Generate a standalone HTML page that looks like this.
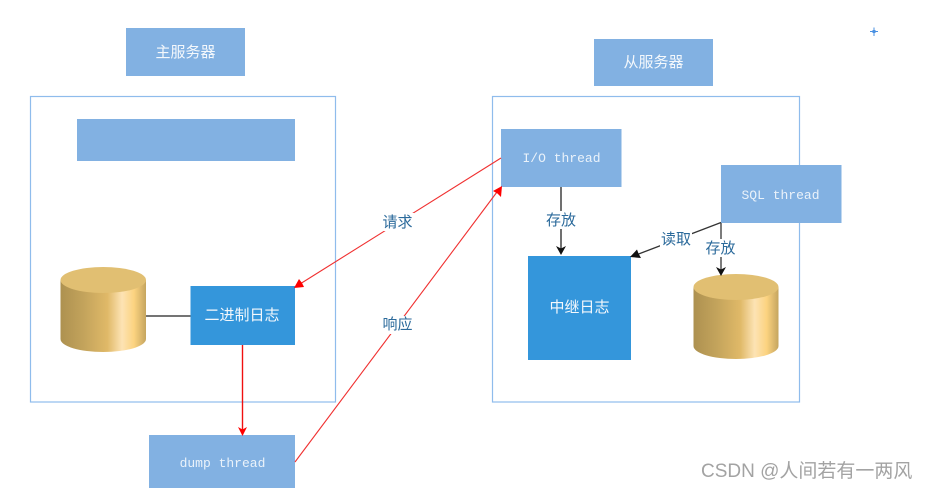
<!DOCTYPE html>
<html>
<head>
<meta charset="utf-8">
<style>
html,body{margin:0;padding:0;background:#fff;width:928px;height:491px;overflow:hidden}
svg{display:block}
.cn{font-family:"Liberation Sans","Noto Sans CJK SC",sans-serif;font-size:15px;text-anchor:middle;fill:#f4f8fc}
.mono{font-family:"Liberation Mono","Noto Sans CJK SC",monospace;font-size:13px;text-anchor:middle;fill:#eaf2fa}
.lab{font-family:"Liberation Sans","Noto Sans CJK SC",sans-serif;font-size:15px;text-anchor:middle;fill:#2b6a9b}
</style>
</head>
<body>
<svg width="928" height="491" viewBox="0 0 928 491" xmlns="http://www.w3.org/2000/svg">
<defs>
<linearGradient id="g" x1="0" y1="0" x2="1" y2="0">
<stop offset="0" stop-color="#ad9150"/>
<stop offset=".28" stop-color="#c4a45c"/>
<stop offset=".55" stop-color="#e0b968"/>
<stop offset=".72" stop-color="#fde3b4"/>
<stop offset=".86" stop-color="#fcd380"/>
<stop offset="1" stop-color="#c5a55f"/>
</linearGradient>
</defs>

<rect x="30.5" y="96.5" width="305" height="305.500" fill="#fff" stroke="#8fbcec" stroke-width="1.200"/>
<rect x="492.5" y="96.500" width="307" height="305.500" fill="#fff" stroke="#8fbcec" stroke-width="1.200"/>

<rect x="126" y="28" width="119" height="48" fill="#82b1e2"/>
<text class="cn" x="185.500" y="57">主服务器</text>
<rect x="594" y="39" width="119" height="47" fill="#82b1e2"/>
<text class="cn" x="653.500" y="67">从服务器</text>
<rect x="77" y="119" width="218" height="42" fill="#82b1e2"/>

<path d="M60.500 280V339A42.750 13 0 0 0 146 339V280Z" fill="url(#g)"/>
<ellipse cx="103.250" cy="280" rx="42.750" ry="13" fill="#e1bf72"/>
<path d="M693.500 287V346A42.500 13 0 0 0 778.500 346V287Z" fill="url(#g)"/>
<ellipse cx="736" cy="287" rx="42.500" ry="13" fill="#e1bf72"/>

<line x1="146" y1="316" x2="191" y2="316" stroke="#222" stroke-width="1.300"/>

<rect x="190.500" y="286" width="104.500" height="59" fill="#3496db"/>
<text class="cn" x="242" y="320">二进制日志</text>
<rect x="149" y="435" width="146" height="53" fill="#82b1e2"/>
<text class="mono" x="222.500" y="467">dump thread</text>
<rect x="501" y="129" width="120.500" height="58" fill="#82b1e2"/>
<text class="mono" x="561.500" y="162">I/O thread</text>
<rect x="721" y="165" width="120.500" height="58" fill="#82b1e2"/>
<text class="mono" x="780.500" y="199">SQL thread</text>
<rect x="528" y="256" width="103" height="104" fill="#3496db"/>
<text class="cn" x="579.500" y="312">中继日志</text>

<line x1="242.500" y1="345" x2="242.500" y2="430" stroke="#f01010" stroke-width="1.400"/>
<path d="M238 427L242.500 429.500L247 427L242.500 436Z" fill="#f00"/>
<line x1="501" y1="158" x2="300" y2="284" stroke="#f03030" stroke-width="1.100"/>
<path d="M294 288L299 279L302 283L304 287Z" fill="#f00"/>
<line x1="295" y1="462" x2="497" y2="192" stroke="#f03030" stroke-width="1.100"/>
<path d="M502 186L501 197L497.500 193.500L493 191Z" fill="#f00"/>

<line x1="561" y1="187" x2="561" y2="250" stroke="#222" stroke-width="1.300"/>
<path d="M556 246L561 248.500L566 246L561 255Z" fill="#111"/>
<line x1="721" y1="222.500" x2="636" y2="255" stroke="#333" stroke-width="1.300"/>
<path d="M630 257L637 249.500L638.500 253.500L641 258Z" fill="#111"/>
<line x1="721" y1="223" x2="721" y2="271" stroke="#444" stroke-width="1.400"/>
<path d="M716 267L721 269.500L726 267L721 276Z" fill="#111"/>

<rect x="381" y="213" width="33" height="18" fill="#fff"/>
<text class="lab" x="397.500" y="227">请求</text>
<rect x="381" y="316" width="33" height="18" fill="#fff"/>
<text class="lab" x="397.500" y="329">响应</text>
<rect x="545" y="211" width="32" height="18" fill="#fff"/>
<text class="lab" x="561" y="225">存放</text>
<rect x="660" y="230" width="32" height="18" fill="#fff"/>
<text class="lab" x="676" y="244">读取</text>
<rect x="704" y="239" width="32" height="18" fill="#fff"/>
<text class="lab" x="720.500" y="253">存放</text>

<g stroke="#4a90e2" stroke-width="1">
<line x1="870" y1="31.500" x2="878" y2="31.500"/>
<line x1="874" y1="27.500" x2="874" y2="36"/>
</g>
<rect x="872.500" y="30" width="3" height="3" fill="#4a90e2"/>
<text x="701" y="477" font-family="'Liberation Sans','Noto Sans CJK SC',sans-serif" font-size="19" fill="#a3a3a3">CSDN @人间若有一两风</text>
</svg>
</body>
</html>
